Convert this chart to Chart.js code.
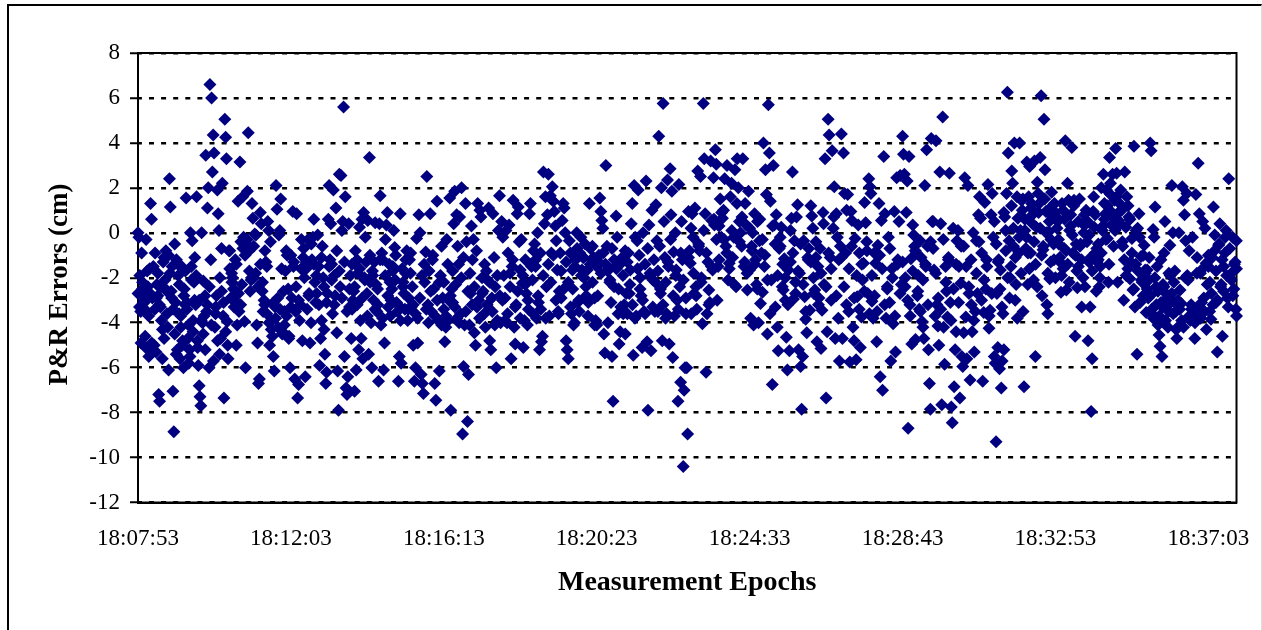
<!DOCTYPE html>
<html>
<head>
<meta charset="utf-8">
<title>P&amp;R Errors</title>
<script src="https://cdn.jsdelivr.net/npm/chart.js@4"></script>
<style>
    body { margin: 0; background: #fff; }
    #wrap { position: relative; width: 1262px; height: 630px; overflow: hidden; }
    #frame { position: absolute; left: 7px; top: 4px; right: 0; bottom: -4px; border-left: 2px solid #000; border-top: 2px solid #000; border-right: 1px solid #ddd; }
    #myChart { position: absolute; left: 0; top: 0; }
</style>
</head>
<body>
<div id="wrap">
    <div id="frame"></div>
    <canvas id="myChart" width="1262" height="630"></canvas>
</div>
<script>
// Tick labels, one every 250 epochs
const tickLabels = ['18:07:53', '18:12:03', '18:16:13', '18:20:23', '18:24:33', '18:28:43', '18:32:53', '18:37:03'];
const tickStep = 250;
const epochsPerBlock = 50;
const lastEpoch = 1796;

// Errors (cm), left to right, one list per 50 epochs
const b00 = [0,-0.2,-1.9,-3.5,-0.9,-2.5,-2.8,-3.1,-4.6,-0.3,-3.5,-2.4,-5.5,-1.6,1.3,0.6,-2.9,-1.5,-5,-0.9,-5.3,-2.3,-2.8,-7.2,-7.5,-3.3,-3.9,-5.6,-1.3,-4.7,-2.1,-0.8,-2.6,-4.2];
const b01 = [-6.1,2.4,1.15,-2.6,-1.5,-7.05,-8.85,-0.5,-3.1,-1.2,-5.2,-1.9,-3.6,-5.6,-4.2,-1.5,-4.8,-6,-2.5,-3.2,1.55,-3.4,-4.7,-5.8,-5.2,0,-1.5,-0.35,-3.9,-2.2,-1.1,-3.2,1.6,-4.8,-5.9];
const b02 = [-6.8,-7.3,-7.7,0,-4,-2.15,-3.7,-2.8,3.45,-3.5,1.1,2,-6,6.6,-1.2,6,2.7,4.35,3.55,-4.2,-3.3,-2.8,1.9,0.85,0.1,-2,-4.7,-0.7,2.2,-3.7,-7.35,5.05,4.25,3.3,-3.95,-5.6,-0.8];
const b03 = [-0.8,-2.9,-1.8,-2,-2.5,-3,-1.2,-5,-4.1,1.4,-3.5,3.15,-0.4,-2.3,1.6,-0.2,-3.95,-6,-0.5,1.85,4.45,-0.8,-2.6,-2.1,1.3,0.65,-2,-0.05,-1.8,-4.1,-4.9,-6.7,-6.5];
const b04 = [0.9,0.4,-2.6,-3.5,-3,-0.8,-1.3,-1.5,0.5,0.1,-5,-0.4,-3.9,-4.6,-5.5,-6.15,-3.3,2.1,1.05,-4.2,-0.1,0.1,1.5,-1.6,-4.4,-2.6,-3.5,-1.7,-0.8,-1,-2.5,-4.6,-6];
const b05 = [-3.3,-2.9,0.95,-1.3,-6.5,-3.5,0.85,-7.35,-6.75,-3.9,-3.2,-0.3,-4.8,-1.1,-2,-6.4,-1.6,-3.4,-0.3,-2.7,-4.9,-4,-1.2,-0.2,0.6,-2.2,-3.1,-2.7,-0.1,-1.5,-5.9,-4.7];
const b06 = [-3.9,-0.6,-2,-4.3,-5.4,-6.7,-6.2,-2.7,0.6,2.1,-1.2,0.4,-1.4,-3.6,1.9,-1.9,-2.8,1.1,-4.45,-6.15,-7.9,2.6,-2.4,2.55,0.1,0.5,5.6,-5.5,1.6,-6.9,-7.2,-6.4,0.4,-3.3,-1.9,-4.7];
const b07 = [-3.4,-3,-2.6,-7.05,-0.8,-6.1,-1.2,-1.8,-5.2,0.25,-3.9,-4.7,0.6,-5.6,0.9,-2,-0.2,-1.3,-2.7,0.55,-5.4,3.35,-2.2,-4,-6,-1.9,-3,-1.3,0.45,-2.3,-3.5,-3.2,-6.6,0.4,1.65,-4.1,-0.9];
const b08 = [-3.8,-6.1,-4.9,-0.3,0.35,0.9,-3.3,-1.4,-2.2,-3,-2.5,-1.7,0.1,-0.65,-1,-3.1,-3.5,-6.6,-5.5,0.85,-5.8,-1.6,-2.2,-2.7,-3.4,-1.2,-0.8,-3.9,-2.9,-1.2,-1.8,-3.3,-2.4];
const b09 = [-5,-6.6,-6,-0.25,-4.9,0.8,0,-6.3,-6.7,-7.15,-2.2,-0.85,2.5,-3.2,-1.7,0.85,-3.5,-1.2,-2.5,-6.7,-7.45,1.4,-3.9,-6.15,-1.9,-0.6,-2.9];
const b10 = [-3.4,-4.85,-4.2,-0.3,-1.4,-3,1.55,-7.9,-2.5,-3.1,0.4,1.85,-2.3,0.8,-0.6,-1.4,0.7,-3.6,2,-8.95,-5.95,-4.1,1.3,-0.4,-8.4,-6.3,-4.1,-2.7,0.3,-1.2,-0.3];
const b11 = [-4.45,-5,-0.8,1.3,-3,1,0.7,-2,-2.6,-3.6,-4.2,-1.7,-2.1,1.1,-4.8,-5.2,-2.9,0.85,-1.1,-2.4,-6,-3.9,0.1,1.65,-4,0.5,-0.2,-1.9];
const b12 = [-3.9,0.1,-4,-0.9,0.35,-2.4,-5.6,-1.5,1.45,-4.2,-4.95,-3.2,0.85,1.15,-0.4,-1.65,-0.3,-2.25,-5.1,-3.9,-1.2,-2.7,-4.1,-3.4,0.85,1.3,-1.5,-2.1,-0.8,-0.5];
const b13 = [-1.5,-3.8,0,-3.1,-5.2,-0.9,-4.85,-4.6,2.7,0.4,1.6,-2.4,0.8,2.6,-3.7,1.65,-0.9,2.05,1.4,0.95,0.3,-0.35,-1.65,-3.5,-2.6,-0.9,-2.9,0.55,1.3,1.1,0];
const b14 = [-4.8,-5.2,-5.6,-0.35,-0.9,-3.6,-1.65,-4.1,-4,-1.2,0,-3.1,-3,-0.9,-0.2,-1.65,-1.1,-2,-0.5,-2.8,-1.65,-3.1,1.3,-0.7,-1.2,-2.2,-1.1,-4.1,-3.9];
const b15 = [-4.1,-2.8,-1.3,1.55,0.95,0.55,0.2,-4.5,-5.35,3,-0.6,-4,-1.6,-2.1,-3.1,-5.5,-7.5,-2.4,-1.5,0.75,-0.2,-3.6,-4.95,-4.4,-1.35,-1.1,-3.6,-3.2,-4.5,-2.7];
const b16 = [-3.6,-0.9,-2.7,-1.65,0.4,1.3,-5.45,2.1,-0.2,-3.7,-0.35,1.9,-1,-2,-2.8,-5.1,0,-3.5,-1.4,2.3,-4.85,-7.9,0.35,-1.8,-5.25,1,-2.1,-1.2,-3.5,1.25,-0.35];
const b17 = [-3.5,4.3,-0.6,-2.7,2,-4.8,5.75,0.5,-1.1,-2.2,-3.6,2.35,-1.5,-4.95,2.85,0.8,1.85,-5.55,-0.85,-3.7,0,-1.65,-3,-7.5,2.15,-2.4,-6.65,0.5,-1.2,-10.4,-7,-6,-2.9,-6,-8.95];
const b18 = [0.95,-0.8,-1.35,-3.6,0.85,-0.2,-2.7,1.1,-2.4,-3.4,2.75,-0.5,-0.8,2.5,-2,-4.05,5.75,3.3,0.85,-6.2,-3.6,-1.3,-2.55,-3.1,3.2,0.55,-1.65,2.45,0.35,3.7,3.05,-3,-1.5];
const b19 = [-1.2,1.5,-0.2,0.65,1,2.4,-0.6,3,-2.1,-1.35,1.6,2.2,-1.1,-0.2,2.8,-2.4,3.3,2,0.5,0,-0.6,3.3,-1.5,1.3,0.35,-2.55,1.85];
const b20 = [-1.65,-3.8,-0.6,0,-4.1,0.85,-1.2,-2.3,0.5,-4,-0.35,-3.15,-0.9,-2.65,4,-1.5,2.8,1.7,-4.5,5.7,3.55,1.4,-2.1,-6.75,3,0.35,-3.3,0.8,-4.2,-5.25,-0.7];
const b21 = [-0.2,0.25,-2.4,-2.55,-1.15,-3,-4.65,-6.1,-1.65,-5.25,-1.3,0.65,2.7,-2.95,-0.35,-2.2,0.7,1.25,-5.2,-1.8,-5.95,-7.85,-5.5,-0.35,-2.85,-3.85,-4.45,-1.1,-0.7,-3.45];
const b22 = [1.2,0.75,0.2,-2.7,-2.55,-1.1,-4.85,-1.5,-2.9,-0.7,-5.15,-3.45,0.9,-2.3,3.3,-7.35,-4.4,5.05,4.35,-1.1,-3,3.65,0.2,2.05,-4.7,0.85,-0.2,-3.8,-5.7,-0.6];
const b23 = [4.4,-4.7,3.55,1.75,-0.9,1,1.7,-3.5,-5.75,0.95,0.55,-4.2,-4.8,-0.25,-5.65,-2.85,0.35,-0.9,-5.1,-3.75,-2.1,-1.35,1.35,0.45,-0.4,-2.7,2.4,2.05,1.75];
const b24 = [-3.05,-3.8,-0.9,-1.35,-4.85,-0.55,1.3,-6.4,0.55,-7,3.4,0.85,-3.8,-2.4,-0.2,-3.1,-5.7,-1.6,-4.05,0.95,-5.3,2.45,-1.2,0.5,2.55,-2.3];
const b25 = [4.3,3.5,2.6,-2,0.9,2.3,-8.7,3.4,-3.2,-1.15,-4.95,0.35,-0.1,-0.6,-4.75,-0.9,-2.8,-1.9,-3.4,-0.35,-1.1,-3.95,-4.2,-4.7,2.1,-1.5,3.7,-0.6,-5.2,-6.7,-7.85,4.2,0.5];
const b26 = [0.5,-1.65,-3.7,4.1,-3.2,-4.15,-5,2.7,0.4,-7.65,5.15,-4.2,-5.85,-1.5,-2.6,-3.75,-1.2,2.65,-3.1,-7.75,-8.45,0.2,-6.85,-5.2,-4.4,-0.35,0.1,-1.5,-7.35,-2.25,-5.5,-5.95];
const b27 = [-4.45,2.45,-3.75,-5.6,2.1,-2.7,-6.55,-1.2,-4.4,0,-5.3,-3.5,-0.35,-2.7,0.8,1.6,0.65,-0.9,-6.6,-3.55,1.35,-2.5,-1.5,2.15,-4.25,-3.45,0.8,1.75,-0.2];
const b28 = [-5.5,-5.8,-9.3,-2.7,-5.1,-1.2,-6.05,-1.65,-6.9,-5.7,-3.6,-5.2,0.7,0.1,1.75,6.25,3.55,-0.35,-2,-1.5,2.75,2.2,-0.6,4,-3,-2.3,1.6,0.65,-0.9,4,0.1,1.45,1,-3.5,-6.85];
const b29 = [0.1,-0.7,3.15,-2.3,1.6,2.95,-0.9,1.3,0.8,-2.1,3.2,-5.5,0.25,2.25,1.75,1.3,3.35,6.1,-2.8,-0.75,5.05,2.8,0.95,-3.2,-3.6,0.05,-2.05,-1.3,1.8,0.7,-0.5,1.3];
const b30 = [-2,0.7,0.5,-0.5,-1.1,-2.65,1.3,-1.6,-0.7,4.1,-2.55,2.2,1.45,0.1,0.8,3.8,-0.9,1.45,-4.6,-0.5,-2.45,-1.5,1.5,-0.5,-3.3,0.4,0,-2.4];
const b31 = [0.4,-0.4,-4.8,-1.3,-3.3,-7.95,-5.6,0.95,0.25,-0.9,-2.6,-1.3,-0.5,-2.4,-1.5,-0.9,0.1,2.6,1.3,0.85,1.9,-0.25,-2.2,3.35,2.2,0.35,2.6,0.7,1.45,3.75];
const b32 = [2.65,-2.2,0.55,1.3,1.9,1,-0.6,-3,2.7,0.25,1.6,-1.6,0.7,-2.05,-1.3,-0.25,-2.55,3.85,-3.3,0.1,-5.4,-1.7,0.85,-3.1,-1.05,-2.2,-2.8,-0.55,-1.65,-3.55];
const b33 = [-1.65,-2.9,-1.1,4,3.65,-3.6,0.15,-0.2,1.15,-2.4,-1.5,-4.1,-4.55,-5.05,-3.1,-5.5,-2.3,-0.9,0.5,-2.7,-3,-4.2,-1.8,-0.55,-3.1,2.1,0,-2.2,-1.7,-3.5,-4.7];
const b34 = [-4.2,0,-2.55,-3.15,2.05,1.45,0.8,-0.35,1.75,-2.1,-0.8,-3.9,-3.4,-0.2,-3.6,-4.7,1.7,-1.1,3.1,0.85,-1.8,-3.1,0.5,-2.9,0.2,-1.35,-2.3];
const b35 = [-1.5,-3.5,-3.85,-1.1,1.15,-0.1,-3.1,-5.3,-0.55,0.4,-2.3,-4.6,-1.5,-0.9,0.1,-2.9,2.4,-2,-1.8,-0.2,-2.5,-1.3,-0.35,-3.7];

// Second pass over the solid middle of the band, where single marks run together
const c00 = [-2.7,-3.3,-4.9,-2.2,-3,-5.1,-1.7,-3.7,-2.7,-4.9,-5.2,-3.4,-2.9,-1.8,-3.2,-2.4,-4.3,-1.1,-2.5,-3.6];
const c01 = [-1,-1.8,-2.9,-3.4,-4.5,-5.4,-1.4,-2.3,-3.7,-5,-2.8,-1.7,-3.1,-4.1,-5.5,-2.1,-4.4,-3,-1.9,-5.1];
const c02 = [-3,-3.9,-4.5,-5.2,-3.2,-2.4,-4.1,-5.7,-3.6,-4.8,-5.4,-2.6,-3.1,-4.4,-5];
const c03 = [-1.6,-2.2,-3.3,-1.4,-2.7,-3.2,-0.7,-1,-0.3,-1.7,-2,-0.6,-0.1,-2.4];
const c04 = [-1.4,-2.2,-3.2,-3.6,-4,-4.3,-3.1,-3.8,-2.9,-3.4,-4.5,-4.1,-3.7,-4.7];
const c05 = [-1,-1.5,-2.4,-3,-1.6,-0.7,-1.3,-2.8,-0.5,-1.4,-1.9,-3.2];
const c06 = [-1.1,-2.4,-3.1,-1.5,-2.1,-3.2,-0.8,-1.7,-2.9,-1.3,-3.5,-2.5];
const c07 = [-1.4,-2.4,-3.2,-1.6,-2.9,-2.1,-3.7,-1,-1.7,-3.4,-2.5,-1.2];
const c08 = [-1.2,-1.9,-2.8,-3.7,-1.5,-2.1,-3.2,-3.9,-2.4,-1.8,-3.4,-0.9];
const c09 = [-3.2,-3.6,-3.8,-2.9,-1.9,-1.4,-3.4,-4,-2.6,-1,-3.7,-3,-2.2,-4.1];
const c10 = [-2.2,-3.7,-3.9,-2.8,-1.7,-3.3,-3.8,-4,-2,-1.1,-3.5,-2.6,-1.8,-3.2];
const c11 = [-2.4,-3.3,-3.8,-2.7,-1.4,-3.2,-2.2,-3.5,-4.1,-1.9,-2.8,-3];
const c12 = [-2.9,-3.6,-1.8,-1.2,-3.3,-2.6,-3.8,-1.9,-2.3,-3,-1.4,-3.6];
const c13 = [-1.2,-2.8,-3.4,-1.9,-3.8,-1.4,-2.2,-1,-3,-3.6,-1.7,-2.5];
const c14 = [-1.3,-2.2,-3.3,-2.5,-1.5,-0.7,-3.5,-1.9,-1.1,-2.4,-3.7,-1.4,-0.6,-2.9];
const c15 = [-1.5,-1,-1.8,-0.9,-1.4,-1.7,-2.2,-0.7,-1.2,-1.6,-2.5,-3.3,-1.9,-0.8];
const c16 = [-1.3,-2.3,-3.2,-3.8,-1.6,-2.5,-3,-3.6,-0.7,-1.9,-3.3,-2.2];
const c17 = [-1.7,-2.5,-3.2,-3.8,-1.3,-0.3,-2.8,-1.9,-3.4,-0.9,-2.1,-3.6];
const c18 = [-1.1,0.2,-1.8,-2.8,-0.6,-2.2,0.1,-0.9,-3.2,-1.5,0.6,-0.3];
const c19 = [0.3,0.9,-0.3,-0.9,-1.6,0.1,-2.3,1.3,-0.4,0.7,-1.3,-1.8];
const c20 = [0.2,-0.8,-1.4,-2.5,0.6,-0.3,-1,-2.1,-3.6,0.3,-0.5,-1.9];
const c21 = [-0.6,-1.4,-2,-3.2,0.1,-0.9,-2.7,-1.7,-0.5,-2.3,-3.5,-1.2];
const c22 = [-1.3,-2,-0.4,-3.2,-1.8,0.4,-2.4,-0.9,-1.6,0.7,-2.8,-1.2];
const c23 = [-1.1,-2.4,-3.2,-1.6,-0.6,-2.9,-1.9,-3.4,-1.4,-2.6,-0.8,-3.6];
const c24 = [-1.9,-2.8,-3.5,-1,-1.6,-3.2,-2.5,-0.7,-2,-3.7,-1.4,-2.7];
const c25 = [-1.3,-2.4,-3,-3.7,-1.7,-0.8,-2.6,-3.5,-2.1,-1.4,-3.2,-0.4];
const c26 = [-0.7,-1.8,-2.9,-3.4,-0.3,-2.2,-1.1,-3.9,-2.5,-1.4,-3.1,-0.6];
const c27 = [-0.6,-1.5,-2.4,-3.2,-3.9,-1.8,-0.4,-3,-2.1,-1.2,-3.7,-2.7];
const c28 = [0.5,-0.5,-1.3,-2.5,-3.3,0.9,-0.8,-2,-2.9,1.2,0.2,-1.1,-3.8,-0.2,-1.8,1.5];
const c29 = [0.6,-0.2,-0.9,-1.6,1.1,0.4,-0.4,-1.4,-2.4,0.9,0.2,-1,-0.6,1.5,0,-1.8,0.5,-0.3,1.2,-1.2];
const c30 = [0.9,0.2,-0.3,-1.3,-1.9,1,0.6,-0.8,-1.4,-2.2,0.3,-0.1,1.2,-1,-1.7,0.5,-0.6,-1.2,-2,0.8];
const c31 = [1,0.5,-0.1,-1.1,-1.7,1.6,0.8,-0.7,-1.2,-2,2,0.3,0.6,-0.3,1.2,-1.4,1.7,0.9,-0.6,0.1];
const c32 = [1.6,0.9,0.4,-0.4,-1.2,-1.9,1.2,0.6,-0.9,-2.5,-1.4,0.2,-0.2,-2.1,-1,-1.8];
const c33 = [-2.5,-2.1,-2.8,-3.4,-3.8,-2,-3.2,-2.6,-3.7,-1.2,-3.3,-2.4,-3.9,-2.9,-3.5,-1.9,-2.7,-3.6,-3.1,-4.3];
const c34 = [-3,-3.4,-3.9,-4.2,-2,-1.9,-3.7,-3.2,-3.6,-4,-1.8,-3.3,-3.8,-1.6,-3.5,-4.3];
const c35 = [-1,-2.2,-2.7,-3.2,-0.8,-1.7,-3,-0.5,-2.4,-1.2,-2.6,-0.2,-1.9,-3.3,-0.7,-2.1,-2.8,-1.4,-3.4,-1.6];

const blocks = [b00,b01,b02,b03,b04,b05,b06,b07,b08,b09,b10,b11,b12,b13,b14,b15,b16,b17,b18,b19,b20,b21,b22,b23,b24,b25,b26,b27,b28,b29,b30,b31,b32,b33,b34,b35];
const coreBlocks = [c00,c01,c02,c03,c04,c05,c06,c07,c08,c09,c10,c11,c12,c13,c14,c15,c16,c17,c18,c19,c20,c21,c22,c23,c24,c25,c26,c27,c28,c29,c30,c31,c32,c33,c34,c35];

// Spread each list over its own 50 epochs
const points = [];
[blocks, coreBlocks].forEach((lists) => {
    lists.forEach((block, k) => {
        block.forEach((err, i) => {
            points.push({ x: Math.min((k + i / block.length) * epochsPerBlock, lastEpoch), y: err });
        });
    });
});

// Thin box round the plot area
const plotBox = {
    id: 'plotBox',
    beforeDatasetsDraw(chart) {
        const { ctx, chartArea: a } = chart;
        ctx.save();
        ctx.strokeStyle = '#000';
        ctx.lineWidth = 2;
        ctx.strokeRect(a.left, a.top, a.right - a.left, a.bottom - a.top);
        ctx.restore();
    }
};

const ctx = document.getElementById('myChart').getContext('2d');
const tickFont = { family: '"Liberation Serif"', size: 23 };

new Chart(ctx, {
    type: 'scatter',
    data: {
        datasets: [{
            label: 'P&R Errors',
            data: points,
            pointStyle: 'rectRot',
            pointRadius: 6.5,
            pointBorderWidth: 0,
            backgroundColor: '#000080',
            clip: false
        }]
    },
    options: {
        responsive: false,
        animation: false,
        layout: { padding: { top: 53, right: 25.5, left: 0, bottom: 0 } },
        plugins: { legend: { display: false }, tooltip: { enabled: false } },
        scales: {
            x: {
                type: 'linear',
                min: 0,
                max: lastEpoch,
                afterFit(scale) {
                    scale.height = 127.5;
                    scale.paddingLeft = 0;
                    scale.paddingRight = 0;
                },
                afterBuildTicks(scale) { scale.ticks = tickLabels.map((t, i) => ({ value: i * tickStep })); },
                grid: { display: false },
                border: { color: '#000', width: 2 },
                ticks: {
                    autoSkip: false,
                    maxRotation: 0,
                    padding: 15,
                    color: '#000',
                    font: tickFont,
                    callback: (v) => tickLabels[Math.round(v / tickStep)]
                },
                title: {
                    display: true,
                    text: 'Measurement Epochs',
                    color: '#000',
                    font: { family: '"Liberation Serif"', size: 28, weight: 'bold' },
                    padding: { top: 0, bottom: 30 }
                }
            },
            y: {
                min: -12,
                max: 8,
                afterFit(scale) { scale.width = 138; },
                grid: {
                    color: '#000',
                    lineWidth: 2.5,
                    tickColor: '#000',
                    tickLength: 8,
                    tickWidth: 2
                },
                border: { color: '#000', width: 2, dash: [5, 7.1], dashOffset: 2.1 },
                ticks: {
                    stepSize: 2,
                    padding: 10,
                    color: '#000',
                    font: tickFont
                },
                title: {
                    display: true,
                    text: 'P&R Errors (cm)  ',
                    color: '#000',
                    font: { family: '"Liberation Serif"', size: 27, weight: 'bold' },
                    padding: { top: 44, bottom: 0 }
                }
            }
        }
    },
    plugins: [plotBox]
});
</script>
</body>
</html>
